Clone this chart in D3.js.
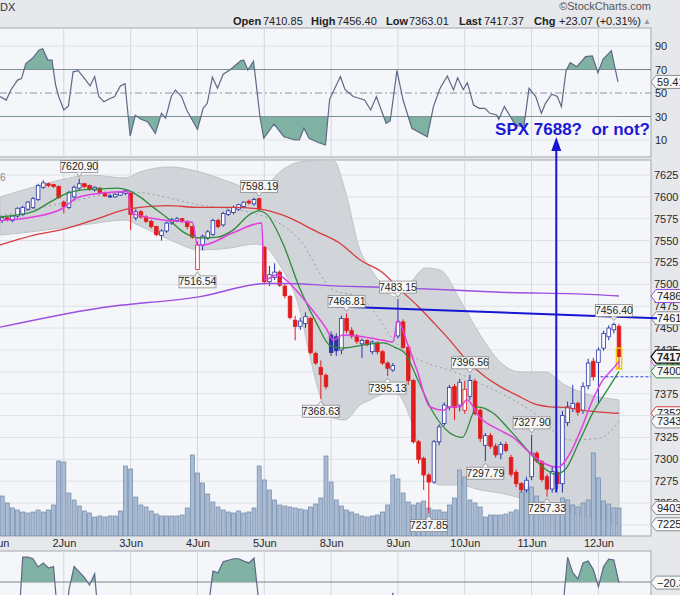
<!DOCTYPE html>
<html>
<head>
<meta charset="utf-8">
<script src="https://cdn.jsdelivr.net/npm/d3@7/dist/d3.min.js"></script>
<style>
  html, body { margin: 0; padding: 0; background: #e6e8ec; }
  svg { display: block; font-family: "Liberation Sans", Arial, sans-serif; }
</style>
</head>
<body>
<div id="chart"></div>
<script>
// 30-minute bars, 13 per session
const dayLabels = ['1Jun', '2Jun', '3Jun', '4Jun', '5Jun', '8Jun', '9Jun', '10Jun', '11Jun', '12Jun'];
const barsPerDay = 13;

const open = [
  7572, 7573, 7576, 7573, 7578, 7580, 7586, 7588, 7597, 7611, 7615, 7614, 7612,
  7594, 7588, 7600, 7610, 7615, 7613, 7608, 7610, 7605, 7601, 7600, 7602, 7604,
  7604, 7576, 7583, 7577, 7572, 7566, 7556, 7561, 7570, 7573, 7575, 7572, 7566,
  7517, 7545, 7553, 7557, 7573, 7568, 7580, 7582, 7586, 7589, 7595, 7592, 7598,
  7542, 7503, 7508, 7514, 7498, 7486, 7459, 7452, 7455, 7461, 7421, 7405, 7396,
  7442, 7440, 7425, 7461, 7447, 7441, 7432, 7436, 7423, 7433, 7423, 7410, 7402,
  7441, 7457, 7428, 7390, 7320, 7301, 7282, 7274, 7320, 7341, 7360, 7383, 7362,
  7356, 7372, 7389, 7356, 7316, 7327, 7315, 7306, 7317, 7302, 7285, 7272, 7265,
  7280, 7307, 7297, 7280, 7266, 7285, 7272, 7342, 7358, 7364, 7356, 7384, 7412,
  7410.85, 7427, 7440, 7448, 7452
];
const high = [
  7578, 7578, 7577, 7579, 7588, 7590, 7595, 7600, 7615, 7619, 7616, 7615, 7613,
  7596, 7607, 7613, 7620.9, 7616, 7614, 7612, 7611, 7606, 7603, 7604, 7606, 7609,
  7606, 7586, 7585, 7579, 7574, 7567, 7563, 7572, 7576, 7577, 7576, 7573, 7567,
  7549, 7557, 7562, 7575, 7575, 7583, 7586, 7590, 7592, 7595, 7597, 7599, 7598.19,
  7544, 7521, 7524, 7516, 7500, 7488, 7464, 7462, 7468, 7463, 7423, 7413, 7398,
  7446, 7444, 7464, 7466.81, 7451, 7443, 7438, 7437, 7436, 7435, 7425, 7412, 7410,
  7483.15, 7460, 7430, 7392, 7322, 7303, 7284, 7322, 7340, 7365, 7385, 7386, 7392,
  7390, 7396.56, 7392, 7358, 7330, 7330, 7318, 7320, 7320, 7305, 7288, 7274, 7280,
  7327.9, 7309, 7299, 7283, 7292, 7287, 7355, 7366, 7385, 7366, 7388, 7415, 7416,
  7428, 7447, 7453, 7456.4, 7455
];
const low = [
  7569, 7570, 7572, 7571, 7576, 7578, 7584, 7586, 7595, 7609, 7611, 7610, 7598,
  7581, 7586, 7598, 7608, 7610, 7607, 7606, 7603, 7600, 7599, 7599, 7601, 7602,
  7562, 7573, 7575, 7570, 7564, 7555, 7550, 7559, 7568, 7571, 7570, 7563, 7552,
  7516.54, 7539, 7551, 7555, 7564, 7566, 7578, 7580, 7584, 7587, 7591, 7590, 7584,
  7500, 7498, 7505, 7497, 7484, 7460, 7436, 7448, 7450, 7420, 7408, 7368.63, 7380,
  7418, 7418, 7420, 7444, 7438, 7432, 7416, 7429, 7420, 7420, 7408, 7395.13, 7400,
  7438, 7426, 7385, 7318, 7295, 7265, 7237.85, 7272, 7316, 7338, 7356, 7345, 7355,
  7352, 7368, 7350, 7320, 7297.79, 7312, 7302, 7300, 7308, 7280, 7268, 7262, 7262,
  7276, 7296, 7274, 7257.33, 7262, 7266, 7262, 7338, 7354, 7350, 7352, 7380, 7390,
  7363.01, 7424, 7436, 7444, 7403
];
const close = [
  7575, 7576, 7574, 7578, 7587, 7588, 7594, 7598, 7613, 7616, 7613, 7612, 7599,
  7589, 7605, 7611, 7615, 7612, 7609, 7611, 7605, 7601, 7601, 7603, 7605, 7607,
  7580, 7583, 7577, 7572, 7566, 7557, 7561, 7570, 7574, 7575, 7572, 7566, 7554,
  7545, 7555, 7560, 7573, 7566, 7581, 7584, 7588, 7591, 7594, 7593, 7597, 7586,
  7503, 7511, 7514, 7499, 7487, 7462, 7452, 7458, 7463, 7422, 7410, 7397, 7383,
  7422, 7424, 7461, 7447, 7441, 7435, 7436, 7431, 7434, 7423, 7410, 7404, 7407,
  7457, 7428, 7390, 7320, 7300, 7282, 7274, 7320, 7337, 7362, 7382, 7359, 7388,
  7380, 7390, 7352, 7324, 7327, 7315, 7305, 7317, 7310, 7283, 7272, 7265, 7276,
  7307, 7298, 7277, 7266, 7286, 7272, 7350, 7360, 7364, 7354, 7383, 7410, 7394.3,
  7425, 7444, 7450, 7454, 7417.37
];
// volume in thousands
const volume = [
  1613, 1344, 1109, 941, 874, 806, 773, 806, 874, 806, 874, 1042, 2520,
  2486, 1445, 1210, 1008, 840, 773, 638, 672, 638, 672, 672, 840, 2352,
  2251, 1310, 1042, 974, 840, 739, 672, 672, 672, 672, 706, 941, 2722,
  2117, 1781, 1411, 1142, 974, 874, 806, 773, 840, 773, 806, 941, 2352,
  1882, 1546, 1210, 1042, 1008, 974, 941, 907, 874, 974, 1075, 1277, 2688,
  1814, 1210, 1008, 874, 806, 739, 672, 638, 672, 706, 806, 1042, 2050,
  1915, 1445, 1142, 1042, 1109, 1176, 941, 874, 874, 806, 1042, 1277, 2218,
  1982, 1210, 1109, 974, 638, 706, 706, 706, 739, 806, 874, 1478, 1781,
  1646, 1344, 1142, 1042, 941, 1042, 1277, 1210, 1042, 974, 1109, 1210, 2789,
  1949, 1176, 1075, 941, 940.39
];

// overlays, read at bar positions
const bbPos = [0.6, 6.4, 12.3, 18.1, 24.9, 27.8, 33.7, 39.5, 45.3, 50.2, 51.9, 55, 58.9, 60.9, 62.8, 65.4, 67.7, 70.6, 72.6, 74.5, 77.4, 80.4, 83.3, 86.2, 90.1, 94, 97.9, 101.8, 106.6, 110.5, 115.4, 118.3, 121];
const bbUpper = [7599.8, 7610.1, 7619.3, 7625, 7621.6, 7628.4, 7634.2, 7628.4, 7617, 7607.9,
  7610.1, 7628.4, 7639.9, 7641, 7642.2, 7642.2, 7607.9, 7539.3, 7518.7, 7502.7,
  7485.5, 7501.5, 7518.7, 7516.4, 7482.1, 7442, 7411.2, 7399.8, 7399.8, 7384.9,
  7373.5, 7370, 7367.8];
const bbLower = [7556.4, 7559.8, 7564.4, 7569, 7573.5, 7566.7, 7550.7, 7539.3, 7541.5, 7546.1,
  7543.8, 7522.1, 7470.7, 7417, 7373.5, 7347.2, 7344.9, 7362, 7367.8, 7373.5,
  7376.9, 7347.2, 7287.7, 7270.6, 7270.6, 7264.9, 7261.4, 7255.7, 7246.6, 7240.9,
  7234, 7229.4, 7225.62];
const bbMidPos = [0.6, 12.3, 25.9, 39.5, 51.2, 58.9, 65.4, 70.6, 78.4, 91.4, 103.7, 111.5, 117.3, 121];
const bbMid = [7578, 7592, 7605.6, 7590.7, 7579.3, 7550.7, 7493.5, 7485.5, 7428.4, 7394, 7356.3, 7322, 7324.3, 7343.26];

const greenPos = [0.6, 7, 10.3, 13.6, 16.7, 20, 23.3, 25.3, 27.8, 30.4, 33.1, 36.2, 39.5, 42.8, 45.9, 49.2, 51, 52.5, 55.6, 59, 62.3, 64.8, 67.3, 70.6, 75.1, 77.4, 79.4, 81.7, 84.8, 88.1, 90.5, 93.4, 96.5, 99.8, 103.1, 106.2, 108.6, 110.5, 113.4, 115.9, 118.7, 121];
const greenVal = [7577, 7583, 7594, 7604, 7608, 7609, 7610, 7608, 7600, 7588, 7576, 7560, 7553, 7554, 7562, 7580, 7584, 7580, 7547, 7494, 7454, 7430, 7427, 7430, 7433, 7428, 7421, 7393, 7354, 7330, 7325, 7360, 7353, 7333, 7311, 7291, 7283, 7288, 7322, 7353, 7379, 7400.52];

const pinkPos = [0.6, 7, 12.8, 15.6, 20, 25.5, 26, 33.1, 38, 39, 40.1, 45.9, 51.5, 52, 54.5, 57.6, 60.9, 64.2, 65.4, 67.3, 71.2, 75.1, 77, 78, 79.8, 81.7, 84.2, 86.8, 88.1, 90.1, 91.4, 93.9, 97.9, 100.4, 103.7, 106.2, 109.1, 111.5, 113.4, 115.9, 117.9, 119.6, 121];
const pinkVal = [7573, 7577, 7587, 7599, 7604, 7606, 7582, 7573, 7571, 7545, 7545, 7559, 7570, 7505, 7511, 7497, 7474, 7448, 7436, 7442, 7440, 7436, 7434, 7459, 7433, 7402, 7360, 7356, 7360, 7360, 7368, 7348, 7333, 7325, 7307, 7296, 7291, 7307, 7331, 7368, 7391, 7402, 7411.9];

const redPos = [0.6, 7, 13.6, 20, 25.3, 27.8, 33.1, 39.5, 45.9, 51.2, 55.6, 62.3, 66.7, 70.6, 75.1, 78.4, 81.7, 84.8, 88.1, 91.4, 94.6, 97.9, 101.2, 104.3, 107.6, 110.9, 114, 117.3, 121];
const redVal = [7545, 7556, 7564, 7576, 7586, 7588, 7590, 7588, 7588, 7586, 7579, 7560, 7547, 7528, 7513, 7494, 7476, 7457, 7436, 7413, 7396, 7383, 7373, 7364, 7360, 7359, 7356, 7354, 7352.61];

const purplePos = [0.6, 20, 39.5, 52.5, 55.6, 66.7, 78.4, 97.9, 117.3, 121];
const purpleVal = [7451, 7473, 7486, 7501, 7501, 7498, 7496, 7491, 7488, 7486.63];

const rsiPos = [0.6, 1.8, 2.7, 4, 4.8, 5.6, 6.9, 8.2, 8.9, 9.9, 10.7, 11.4, 12, 13, 13.9, 14.8, 15.8, 17, 18.1, 19,
  19.8, 20.8, 22.1, 22.9, 24, 24.9, 25.9, 26.9, 28, 29.3, 30.8, 32, 32.8, 33.9, 34.7, 35.9, 36.9, 39, 40.1, 40.9,
  41.9, 42.9, 44, 45.3, 47.4, 48, 48.8, 49.9, 51.2, 51.9, 53.9, 55.8, 58, 58.8, 59.7, 60.7, 62.6, 63.9, 64.7, 66.8,
  67.7, 69.3, 71.5, 72.7, 73.8, 75.7, 76.5, 77.8, 79, 80.7, 83.7, 84.9, 86.2, 87.6, 88.8, 89.6, 90.7, 91.5, 92.7, 93.8,
  94.9, 95.9, 97.2, 97.6, 98.7, 99.9, 100.9, 102.5, 103.5, 104.8, 105.9, 106.7, 107.9, 109, 109.8, 110.7, 111.5, 112.8, 114.5, 115.8,
  116.9, 117.9, 119.5, 120.8];
const rsiVal = [47, 44, 52.6, 61, 62.5, 75, 79.5, 86.6, 87.7, 78, 78, 56.8, 47, 35.5, 39, 68, 69, 62.5, 56, 64,
  47, 42.6, 45.5, 47, 56, 58, 13.4, 31, 27.6, 25.6, 15.7, 32.7, 28.5, 47, 52.6, 47, 35.5, 19, 37, 41.2,
  63.4, 54, 66, 69.6, 77.5, 78, 69.6, 77, 28.5, 11.4, 23.6, 12.8, 10, 10, 20, 11.4, 7.7, 5.7, 44.6, 64,
  53, 47, 44, 35.5, 47, 24.2, 26.4, 69, 44, 20, 12.8, 38.4, 54, 64.5, 52.6, 63, 53, 58.8, 39.8, 37,
  37, 32.7, 31.3, 27.6, 38.4, 29.8, 22, 22, 54, 47, 32.7, 41.2, 49, 47, 38.4, 69, 75.8, 72.4, 81, 81.5,
  67.3, 78.7, 86, 59.41];
const rsiTicks = [10, 30, 50, 70, 90];

const wrPos = [0, 1, 2, 3, 4, 5, 6, 7, 8, 9, 10, 11, 12, 13, 14, 15, 16, 17, 18, 19, 20, 23, 25, 26, 30, 35, 38, 40,
  41, 42, 43, 44, 45, 46, 47, 48, 49, 50, 51, 52, 60, 70, 76, 77, 78, 85, 95, 103, 108, 109,
  110, 111, 112, 113, 114, 115, 116, 117, 118, 119, 120, 121];
const wrVal = [-62, -55, -58, -50, -60, -4, -4, -5, -10.3, -7.7, -11, -10, -50, -70, -25, -10, -13.5, -17, -22, -14.8, -55, -55, -31, -75, -85, -60, -75, -60,
  -40, -13, -14, -7, -6, -5, -5, -6.5, -7.7, -4.5, -35, -90, -80, -60, -60, -27, -70, -90, -65, -50, -75, -60,
  -40, -4, -14, -18, -7.7, -6.5, -12, -23, -10, -5.2, -5.8, -20.39];

const priceTicks = [7225, 7250, 7275, 7300, 7325, 7350, 7375, 7400, 7425, 7450, 7475, 7500, 7525, 7550, 7575, 7600, 7625];

// labelled highs / lows
const noteBars = [16, 51, 39, 63, 68, 78, 76, 84, 92, 95, 104, 107, 120];
const noteSide = ['high', 'high', 'low', 'low', 'high', 'high', 'low', 'low', 'high', 'low', 'high', 'low', 'high'];

// hand drawn resistance line and prior close
const trendPos = [64.8, 128.4];
const trendVal = [7475, 7461.2];
const prevClose = 7394.3;

const headLabels = ['Open', 'High', 'Low', 'Last', 'Chg'];
const headValues = ['7410.85', '7456.40', '7363.01', '7417.37', '+23.07 (+0.31%)'];

(function () {
  const W = 680, H = 595, R = 651;
  const panels = { rsi: [28, 157], main: [160, 536], wr: [551, 605] };
  const svg = d3.select('#chart').append('svg').attr('width', W).attr('height', H);
  svg.append('rect').attr('width', W).attr('height', H).attr('fill', '#e6e8ec');

  const x = d3.scaleLinear().domain([0, 121]).range([-3, 619]);
  const y = d3.scaleLinear().domain([7250, 7625]).range([503, 175]);
  const yR = d3.scaleLinear().domain([10, 90]).range([140, 46]);
  const yV = d3.scaleLinear().domain([0, 3000]).range([536, 446.7]);
  const yW = d3.scaleLinear().domain([-20, 0]).range([582, 551]);
  const dayStarts = dayLabels.map((d, k) => k * barsPerDay);
  const pts = (p, v) => p.map((q, k) => [q, v[k]]);
  const fmt = d3.format('.2f');

  const defs = svg.append('defs');
  Object.entries(panels).forEach(([k, [t, b]]) => {
    defs.append('clipPath').attr('id', 'clip-' + k).append('rect')
      .attr('x', 0).attr('y', t).attr('width', R).attr('height', b - t);
    svg.append('rect').attr('x', -1).attr('y', t).attr('width', R + 1).attr('height', b - t)
      .attr('fill', '#f5f6f9').attr('stroke', '#a2a7af');
  });
  const layer = (k) => svg.append('g').attr('clip-path', `url(#clip-${k})`);

  // gridlines
  Object.entries(panels).forEach(([k, [t, b]]) => {
    layer(k).selectAll('line').data(dayStarts).join('line')
      .attr('x1', (d) => x(d)).attr('x2', (d) => x(d)).attr('y1', t).attr('y2', b)
      .attr('stroke', '#d3d7dd');
  });
  layer('main').selectAll('line').data(priceTicks).join('line')
    .attr('x1', 0).attr('x2', R).attr('y1', (d) => y(d)).attr('y2', (d) => y(d)).attr('stroke', '#dde1e6');
  const rg = layer('rsi');
  rsiTicks.forEach((v) => {
    const l = rg.append('line').attr('x1', 0).attr('x2', R).attr('y1', yR(v)).attr('y2', yR(v));
    if (v === 70 || v === 30) l.attr('stroke', '#7c848e').attr('stroke-width', 1.2);
    else if (v === 50) l.attr('stroke', '#8d9299').attr('stroke-dasharray', '7,3,2,3');
    else l.attr('stroke', '#dde1e6');
  });

  // RSI
  const rLine = d3.line().x((d) => x(d[0])).y((d) => yR(d[1]));
  const rsi = pts(rsiPos, rsiVal);
  defs.append('clipPath').attr('id', 'c70').append('rect').attr('x', 0).attr('y', 28).attr('width', R).attr('height', yR(70) - 28);
  defs.append('clipPath').attr('id', 'c30').append('rect').attr('x', 0).attr('y', yR(30)).attr('width', R).attr('height', 157 - yR(30));
  rg.append('path').datum(rsi).attr('clip-path', 'url(#c70)')
    .attr('d', d3.area().x((d) => x(d[0])).y0(yR(70)).y1((d) => yR(d[1])))
    .attr('fill', '#7fb2a2');
  rg.append('path').datum(rsi).attr('clip-path', 'url(#c30)')
    .attr('d', d3.area().x((d) => x(d[0])).y0(yR(30)).y1((d) => yR(d[1])))
    .attr('fill', '#7fb2a2');
  rg.append('path').datum(rsi).attr('d', rLine).attr('fill', 'none').attr('stroke', '#5d6987').attr('stroke-width', 1.2);

  // main panel
  const mg = layer('main');
  const bb = bbPos.map((p, k) => [p, bbUpper[k], bbLower[k]]);
  mg.append('path').datum(bb)
    .attr('d', d3.area().x((d) => x(d[0])).y0((d) => y(d[2])).y1((d) => y(d[1])).curve(d3.curveMonotoneX))
    .attr('fill', '#d1d4d8').attr('stroke', '#bfc2c7');
  mg.append('path').datum(pts(bbMidPos, bbMid))
    .attr('d', d3.line().x((d) => x(d[0])).y((d) => y(d[1])).curve(d3.curveMonotoneX))
    .attr('fill', 'none').attr('stroke', '#9a9ea6').attr('stroke-dasharray', '2,3');

  mg.selectAll('rect.vol').data(volume).join('rect').attr('class', 'vol')
    .attr('x', (d, i) => x(i) - 2).attr('width', 4)
    .attr('y', (d) => yV(d)).attr('height', (d) => 536 - yV(d))
    .attr('fill', '#a8bbd2').attr('stroke', '#7088a9').attr('stroke-width', 0.7);

  const blue = '#2734a6', red = '#e11c1c';
  const cg = mg.append('g');
  open.forEach((o, i) => {
    const c = close[i];
    const col = i > 0 && c < close[i - 1] ? red : blue;
    const hollow = c > o;
    cg.append('line').attr('x1', x(i)).attr('x2', x(i)).attr('y1', y(high[i])).attr('y2', y(low[i]))
      .attr('stroke', col).attr('stroke-width', 1);
    cg.append('rect').attr('x', x(i) - 1.8).attr('width', 3.6)
      .attr('y', y(Math.max(o, c))).attr('height', Math.max(1, Math.abs(y(o) - y(c))))
      .attr('fill', hollow ? '#ffffff' : col).attr('stroke', col).attr('stroke-width', 0.8);
  });
  cg.append('rect').attr('x', x(121) - 2.6).attr('width', 5.2)
    .attr('y', y(7427)).attr('height', y(low[121]) - y(7427))
    .attr('fill', 'none').attr('stroke', '#f0cf00').attr('stroke-width', 1.5);

  const pLine = d3.line().x((d) => x(d[0])).y((d) => y(d[1])).curve(d3.curveMonotoneX);
  [[purplePos, purpleVal, '#9b50e0', 1.4], [redPos, redVal, '#d83c3c', 1.3],
   [greenPos, greenVal, '#2f8a3a', 1.3], [pinkPos, pinkVal, '#e23fe2', 1.5]].forEach(([p, v, col, w]) => {
    mg.append('path').datum(pts(p, v)).attr('d', pLine).attr('fill', 'none').attr('stroke', col).attr('stroke-width', w);
  });

  // Williams %R
  const wg = layer('wr');
  wg.append('line').attr('x1', 0).attr('x2', R).attr('y1', yW(-20)).attr('y2', yW(-20)).attr('stroke', '#7c848e').attr('stroke-width', 1.2);
  const wr = pts(wrPos, wrVal);
  defs.append('clipPath').attr('id', 'cw').append('rect').attr('x', 0).attr('y', 551).attr('width', R).attr('height', yW(-20) - 551);
  wg.append('path').datum(wr).attr('clip-path', 'url(#cw)')
    .attr('d', d3.area().x((d) => x(d[0])).y0(yW(-20)).y1((d) => yW(d[1])))
    .attr('fill', '#7fb2a2');
  wg.append('path').datum(wr).attr('d', d3.line().x((d) => x(d[0])).y((d) => yW(d[1])))
    .attr('fill', 'none').attr('stroke', '#5d6987').attr('stroke-width', 1.2);

  // axes
  const styleAxis = (g) => {
    g.select('.domain').remove();
    g.selectAll('text').attr('font-size', 11).attr('fill', '#2a2a2a').attr('font-family', '"Liberation Sans", Arial, sans-serif');
  };
  svg.append('g').attr('transform', `translate(${R},0)`)
    .call(d3.axisRight(y).tickValues(priceTicks).tickSize(0).tickPadding(3).tickFormat(d3.format('d'))).call(styleAxis);
  svg.append('g').attr('transform', `translate(${R},0)`)
    .call(d3.axisRight(yR).tickValues(rsiTicks).tickSize(0).tickPadding(4)).call(styleAxis);
  svg.append('g').attr('transform', 'translate(0,536)')
    .call(d3.axisBottom(x).tickValues(dayStarts).tickSize(0).tickPadding(3).tickFormat((d, k) => dayLabels[k])).call(styleAxis);

  // value tags on right edge
  const tag = (py, text, col, bold) => {
    svg.append('path').attr('d', `M${R},${py} L${R + 5},${py - 6.5} L${W + 5},${py - 6.5} L${W + 5},${py + 6.5} L${R + 5},${py + 6.5} Z`)
      .attr('fill', '#f8f8f8').attr('stroke', col).attr('stroke-width', bold ? 1.3 : 1);
    svg.append('text').attr('x', R + 6).attr('y', py + 4).attr('font-size', 11)
      .attr('font-weight', bold ? 'bold' : 'normal').attr('fill', '#222').text(text);
  };
  tag(yR(rsiVal[rsiVal.length - 1]), fmt(rsiVal[rsiVal.length - 1]), '#8a8f96');
  tag(y(purpleVal[purpleVal.length - 1]), fmt(purpleVal[purpleVal.length - 1]), '#9b50e0');
  tag(y(trendVal[1]), fmt(trendVal[1]), '#8a8f96');
  tag(y(pinkVal[pinkVal.length - 1]), fmt(pinkVal[pinkVal.length - 1]), '#e23fe2');
  tag(y(close[121]), fmt(close[121]), '#111', true);
  tag(y(greenVal[greenVal.length - 1]), fmt(greenVal[greenVal.length - 1]), '#2f8a3a');
  tag(y(redVal[redVal.length - 1]), fmt(redVal[redVal.length - 1]), '#d83c3c');
  tag(y(bbMid[bbMid.length - 1]), fmt(bbMid[bbMid.length - 1]), '#8a8f96');
  tag(yV(volume[121]), String(Math.round(volume[121] * 1000)), '#8a8f96');
  tag(y(bbLower[bbLower.length - 1]), fmt(bbLower[bbLower.length - 1]), '#8a8f96');
  tag(yW(wrVal[wrVal.length - 1]), fmt(wrVal[wrVal.length - 1]), '#8a8f96');

  // hand drawn notes
  svg.append('line').attr('x1', x(trendPos[0])).attr('y1', y(trendVal[0])).attr('x2', x(trendPos[1])).attr('y2', y(trendVal[1]))
    .attr('stroke', '#1616d4').attr('stroke-width', 2);
  svg.append('line').attr('x1', x(117) + 2).attr('x2', R).attr('y1', y(prevClose)).attr('y2', y(prevClose))
    .attr('stroke', '#2a3fe0').attr('stroke-dasharray', '3,2');
  const ax = x(108.8);
  svg.append('line').attr('x1', ax).attr('x2', ax).attr('y1', y(7262)).attr('y2', 150)
    .attr('stroke', '#1616d4').attr('stroke-width', 2);
  svg.append('path').attr('d', `M${ax - 5},151 L${ax + 5},151 L${ax},137 Z`).attr('fill', '#1616d4');
  svg.append('text').attr('x', 650).attr('y', 135).attr('text-anchor', 'end')
    .attr('font-size', 17).attr('font-weight', 'bold').attr('fill', '#1a1ad6')
    .style('white-space', 'pre').text('SPX 7688?  or not?');

  // high / low labels
  const ng = svg.append('g');
  noteBars.forEach((i, k) => {
    const up = noteSide[k] === 'high';
    const v = up ? high[i] : low[i];
    const px = x(i), py = y(v);
    const top = up ? py - 18 : py + 6;
    const tip = up ? py - 2 : py + 2, base = up ? py - 6 : py + 6;
    ng.append('rect').attr('x', px - 18.5).attr('y', top).attr('width', 37).attr('height', 12)
      .attr('fill', '#f7f7f7').attr('stroke', '#8c8c8c').attr('stroke-width', 0.8);
    ng.append('path').attr('d', `M${px - 3},${base} L${px},${tip} L${px + 3},${base}`)
      .attr('fill', '#f7f7f7').attr('stroke', '#8c8c8c').attr('stroke-width', 0.8);
    ng.append('text').attr('x', px).attr('y', top + 9.6).attr('text-anchor', 'middle')
      .attr('font-size', 10.5).attr('fill', '#1e1e1e').text(fmt(v));
  });

  // header
  svg.append('text').attr('x', 0).attr('y', 11).attr('font-size', 11).attr('fill', '#333').text('DX');
  svg.append('text').attr('x', 651).attr('y', 10).attr('text-anchor', 'end').attr('font-size', 11).attr('fill', '#555').text('\u00a9StockCharts.com');
  svg.append('text').attr('x', 0).attr('y', 181).attr('font-size', 10).attr('fill', '#888').text('6');
  const labX = [233, 311, 386, 459, 534];
  const valX = [263, 337, 409, 484, 559];
  headLabels.forEach((l, k) => {
    svg.append('text').attr('x', labX[k]).attr('y', 25).attr('font-size', 11).attr('font-weight', 'bold').attr('fill', '#222').text(l);
    svg.append('text').attr('x', valX[k]).attr('y', 25).attr('font-size', 11).attr('fill', '#222').text(headValues[k]);
  });
  svg.append('text').attr('x', 643).attr('y', 24).attr('font-size', 8).attr('fill', '#999').text('\u25b2');
})();
</script>
</body>
</html>
